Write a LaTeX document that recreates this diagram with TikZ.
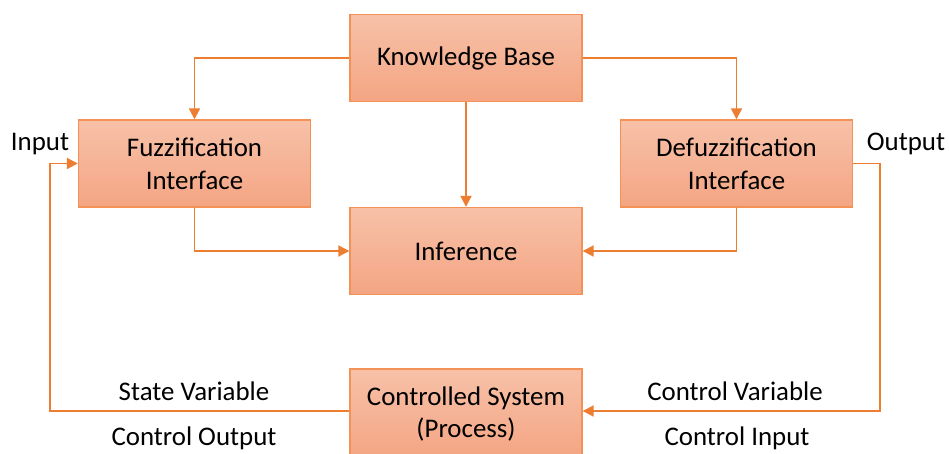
\documentclass[tikz,border=0pt]{standalone}
\usepackage{fontspec}
\setmainfont{Carlito}
\usetikzlibrary{arrows.meta}
\definecolor{boxtop}{RGB}{247,193,168}
\definecolor{boxbot}{RGB}{244,165,131}
\definecolor{boxline}{RGB}{243,145,86}
\definecolor{wire}{RGB}{237,125,49}
\begin{document}
\begin{tikzpicture}[x=0.02cm,y=-0.02cm,
    font=\fontsize{15.3}{18.7}\selectfont,
    block/.style={rectangle,draw=boxline,line width=0.8pt,top color=boxtop,bottom color=boxbot,
      minimum width=4.64cm,minimum height=1.74cm,align=center,inner sep=0pt},
    wire/.style={draw=wire,line width=1.1pt,-{Triangle[length=2.2mm,width=2.2mm]}}]

      \useasboundingbox (0,0) rectangle (949,453);

      \begin{scope}[every node/.style={block}]
        \node (kb)    at (466,58)    {Knowledge Base};
        \node (fuzz)  at (194.5,163.5) {Fuzzification\\Interface};
        \node (defuz) at (736.5,163.5) {Defuzzification\\Interface};
        \node (inf)   at (466,251)   {Inference};
        \node (proc)  at (466,414) [minimum height=1.8cm] {Controlled System\\(Process)};
      \end{scope}

      \coordinate (outc) at (880,163.5);
      \coordinate (inc)  at (50,163.5);

      \begin{scope}[every node/.style={inner sep=0pt}]
        \node (in)    at (40,144)  {Input};
        \node (out)   at (906,144) {Output};
        \node (sv)    at (194,391) {State Variable};
        \node (co)    at (194,438) {Control Output};
        \node (cv)    at (735,391) {Control Variable};
        \node (ci)    at (737,438) {Control Input};
      \end{scope}

      \begin{scope}[every path/.style={wire}]
        \path (kb.west) -| (fuzz.north);
        \path (kb.east) -| (defuz.north);
        \path (kb.south) -- (inf.north);
        \path (fuzz.south) |- (inf.west);
        \path (defuz.south) |- (inf.east);
        \path (defuz.east) -- (outc) |- ([yshift=0.06cm]proc.east);
        \path ([yshift=0.06cm]proc.west) -| (inc) -- (fuzz.west);
      \end{scope}

    \end{tikzpicture}
\end{document}
